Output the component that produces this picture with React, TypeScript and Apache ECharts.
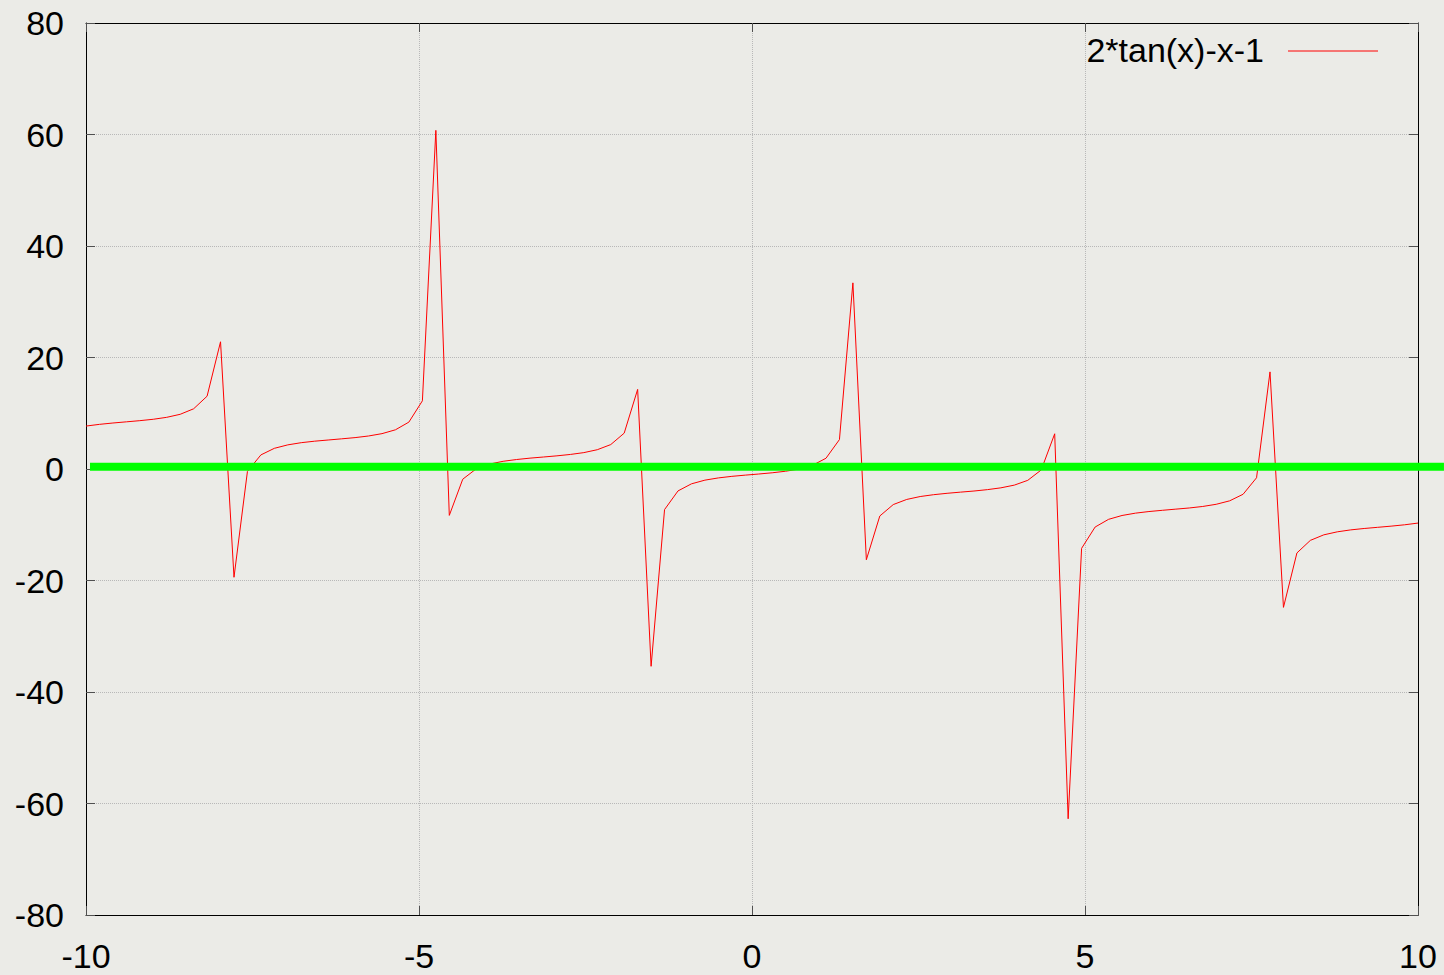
import React, { useEffect, useRef } from "react";
import * as echarts from "echarts";

// sample positions (gnuplot default 100 samples on [-10, 10])
const xValues = [
  -10, -9.798, -9.596, -9.394, -9.192, -8.99, -8.788, -8.586, -8.384, -8.182,
  -7.98, -7.778, -7.576, -7.374, -7.172, -6.97, -6.768, -6.566, -6.364, -6.162,
  -5.96, -5.758, -5.556, -5.354, -5.152, -4.949, -4.747, -4.545, -4.343, -4.141,
  -3.939, -3.737, -3.535, -3.333, -3.131, -2.929, -2.727, -2.525, -2.323, -2.121,
  -1.919, -1.717, -1.515, -1.313, -1.111, -0.909, -0.707, -0.505, -0.303, -0.101,
  0.101, 0.303, 0.505, 0.707, 0.909, 1.111, 1.313, 1.515, 1.717, 1.919,
  2.121, 2.323, 2.525, 2.727, 2.929, 3.131, 3.333, 3.535, 3.737, 3.939,
  4.141, 4.343, 4.545, 4.747, 4.949, 5.152, 5.354, 5.556, 5.758, 5.96,
  6.162, 6.364, 6.566, 6.768, 6.97, 7.172, 7.374, 7.576, 7.778, 7.98,
  8.182, 8.384, 8.586, 8.788, 8.99, 9.192, 9.394, 9.596, 9.798, 10,
];

const yValues = [
  7.7, 8.01, 8.25, 8.46, 8.67, 8.92, 9.27, 9.81, 10.8, 13.06,
  22.82, -19.42, -0.43, 2.53, 3.71, 4.33, 4.72, 4.99, 5.2, 5.41,
  5.63, 5.92, 6.34, 7.03, 8.41, 12.23, 60.74, -8.32, -1.83, 0.03,
  0.89, 1.38, 1.7, 1.95, 2.15, 2.36, 2.61, 2.94, 3.46, 4.38,
  6.43, 14.28, -35.39, -7.28, -3.93, -2.66, -2.0, -1.6, -1.32, -1.1,
  -0.9, -0.68, -0.4, 0.0, 0.66, 1.93, 5.28, 33.39, -16.28, -8.43,
  -6.38, -5.46, -4.94, -4.61, -4.36, -4.15, -3.95, -3.7, -3.38, -2.89,
  -2.03, -0.17, 6.32, -62.74, -14.23, -10.41, -9.03, -8.34, -7.92, -7.63,
  -7.41, -7.2, -6.99, -6.72, -6.33, -5.71, -4.53, -1.57, 17.42, -24.82,
  -15.06, -12.8, -11.81, -11.27, -10.92, -10.67, -10.46, -10.25, -10.01, -9.7,
];

// horizontal green reference line (extends past the right frame)
const greenX = [-9.94, 10.39];
const greenY = [0.4, 0.4];

const seriesName = "2*tan(x)-x-1";
const xTicks = { min: -10, max: 10, interval: 5 };
const yTicks = { min: -80, max: 80, interval: 20 };

const FONT = "'Liberation Sans', Arial, Helvetica, sans-serif";

export default function App() {
  const ref = useRef<HTMLDivElement>(null);

  useEffect(() => {
    if (!ref.current) return;
    const chart = echarts.init(ref.current, undefined, { renderer: "svg" });

    const tickStyle = { show: true, inside: true, length: 9, lineStyle: { color: "#505050", width: 1 } };
    const axisLine = { show: true, onZero: false, lineStyle: { color: "#000", width: 1 } };
    const splitLine = { show: true, lineStyle: { color: "#b8b8b8", type: "dotted" as const, width: 1 } };

    chart.setOption({
      animation: false,
      backgroundColor: "#ebebe7",
      grid: { left: 86, right: 26, top: 23, bottom: 60, containLabel: false },
      xAxis: [
        {
          type: "value",
          position: "bottom",
          ...xTicks,
          axisLine,
          axisTick: tickStyle,
          splitLine,
          axisLabel: { color: "#000", fontSize: 34, fontFamily: FONT, margin: 24, showMinLabel: true, showMaxLabel: true },
        },
        {
          type: "value",
          position: "top",
          ...xTicks,
          axisLine,
          axisTick: tickStyle,
          splitLine: { show: false },
          axisLabel: { show: false },
        },
      ],
      yAxis: [
        {
          type: "value",
          position: "left",
          ...yTicks,
          axisLine,
          axisTick: tickStyle,
          splitLine,
          axisLabel: { color: "#000", fontSize: 34, fontFamily: FONT, margin: 22, showMinLabel: true, showMaxLabel: true },
        },
        {
          type: "value",
          position: "right",
          ...yTicks,
          axisLine,
          axisTick: tickStyle,
          splitLine: { show: false },
          axisLabel: { show: false },
        },
      ],
      series: [
        {
          name: seriesName,
          type: "line",
          data: xValues.map((x, i) => [x, yValues[i]]),
          showSymbol: false,
          symbol: "none",
          lineStyle: { color: "#ff0000", width: 1 },
          itemStyle: { color: "#ff0000" },
          z: 3,
        },
      ],
    });

    const p0 = chart.convertToPixel({ gridIndex: 0 }, [greenX[0], greenY[0]]) as number[];
    const p1 = chart.convertToPixel({ gridIndex: 0 }, [greenX[1], greenY[1]]) as number[];

    chart.setOption({
      graphic: [
        {
          type: "line",
          shape: { x1: p0[0], y1: p0[1], x2: p1[0], y2: p1[1] },
          style: { stroke: "#00ff00", lineWidth: 8, lineCap: "butt" },
          z: 10,
        },
        {
          type: "text",
          right: 1444 - 1264,
          top: 33,
          style: { text: seriesName, fill: "#000", font: `34px ${FONT}` },
        },
        {
          type: "line",
          shape: { x1: 1288, y1: 51, x2: 1378, y2: 51 },
          style: { stroke: "#ff0000", lineWidth: 1 },
        },
      ],
    });

    return () => chart.dispose();
  }, []);

  return (
    <div
      ref={ref}
      style={{ position: "fixed", left: 0, top: 0, width: 1444, height: 975 }}
    />
  );
}
